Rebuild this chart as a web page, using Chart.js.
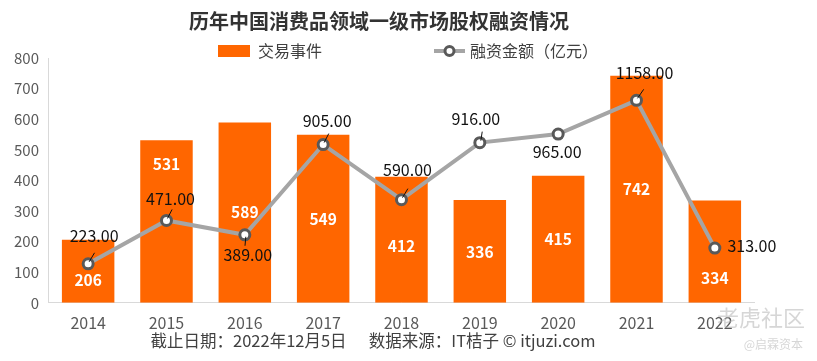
<!DOCTYPE html>
<html>
<head>
<meta charset="utf-8">
<script src="https://cdn.jsdelivr.net/npm/chart.js@4.4.0/dist/chart.umd.min.js"></script>
<style>
  html, body { margin: 0; padding: 0; background: #fff; }
  #wrap { width: 817px; height: 361px; position: relative; }
</style>
</head>
<body>
<div id="wrap"><canvas id="chart"></canvas></div>
<script>
// data
const years = ['2014', '2015', '2016', '2017', '2018', '2019', '2020', '2021', '2022'];
const deals = [206, 531, 589, 549, 412, 336, 415, 742, 334];
const amounts = [223, 471, 389, 905, 590, 916, 965, 1158, 313];
const yTicks = [0, 100, 200, 300, 400, 500, 600, 700, 800];
// where the deal counts sit inside the bars (in axis units)
const dealLabelAt = [75, 452, 295, 275, 184, 167, 207, 370, 82];

const FONT = '"Noto Sans CJK SC", "Noto Sans", sans-serif';
const ORANGE = '#ff6600';
const FOOTER = '截止日期：2022年12月5日      数据来源：IT桔子 © itjuzi.com';

// label offsets for the amount labels [dx, dy, leader]
const amtOffsets = [
  [6, -28, true], [4, -22, true], [3, 20, true], [4, -24, true], [6, -30, true],
  [-4, -24, true], [-1, 18, false], [8, -27, true], [37, -2, false]
];

const labelsPlugin = {
  id: 'labels',
  afterDatasetsDraw(chart) {
    const ctx = chart.ctx;
    const x = chart.scales.x, y = chart.scales.y;
    const lineMeta = chart.getDatasetMeta(1);
    ctx.save();
    ctx.textAlign = 'center';
    ctx.textBaseline = 'middle';
    // deal counts, white bold
    ctx.fillStyle = '#ffffff';
    ctx.font = 'bold 15.5px ' + FONT;
    deals.forEach((v, i) => {
      ctx.fillText(String(v), x.getPixelForValue(i), y.getPixelForValue(dealLabelAt[i]));
    });
    // amounts, black
    ctx.font = '16px ' + FONT;
    ctx.fillStyle = '#111';
    ctx.strokeStyle = '#111';
    ctx.lineWidth = 1;
    amounts.forEach((v, i) => {
      const p = lineMeta.data[i];
      const o = amtOffsets[i];
      if (o[2]) {
        const sgn = o[1] < 0 ? -1 : 1;
        ctx.beginPath();
        ctx.moveTo(p.x + 1, p.y + sgn * 2);
        ctx.lineTo(p.x + 1 + o[0] * 0.4 + (sgn < 0 ? 3 : -2), p.y + sgn * 11);
        ctx.stroke();
      }
      ctx.fillText(v.toFixed(2), p.x + o[0], p.y + o[1]);
    });
    ctx.restore();
  },
  afterDraw(chart) {
    const ctx = chart.ctx;
    const ds = chart.data.datasets;
    ctx.save();
    ctx.textBaseline = 'middle';

    // legend row
    const ly = 51;
    ctx.fillStyle = ds[0].backgroundColor;
    ctx.fillRect(218, ly - 6, 32, 12);
    ctx.strokeStyle = ds[1].borderColor;
    ctx.lineWidth = 4;
    ctx.beginPath(); ctx.moveTo(434, ly); ctx.lineTo(465, ly); ctx.stroke();
    ctx.beginPath(); ctx.arc(449.5, ly, 4.5, 0, Math.PI * 2);
    ctx.fillStyle = '#fff'; ctx.fill();
    ctx.lineWidth = 3; ctx.strokeStyle = ds[1].pointBorderColor; ctx.stroke();
    ctx.fillStyle = '#404040';
    ctx.font = '16px ' + FONT;
    ctx.textAlign = 'left';
    ctx.fillText(ds[0].label, 258, ly);
    ctx.fillText(ds[1].label, 470, ly);

    // footer
    ctx.fillStyle = '#404040';
    ctx.font = '16.5px ' + FONT;
    ctx.textAlign = 'center';
    ctx.fillText(FOOTER, 373, 341);

    // watermarks
    ctx.fillStyle = 'rgba(180,180,180,0.55)';
    ctx.textAlign = 'right';
    ctx.font = '22px ' + FONT;
    ctx.fillText('老虎社区', 805, 318);
    ctx.font = '12px ' + FONT;
    ctx.fillText('@启霖资本', 803, 344);
    ctx.restore();
  }
};

new Chart(document.getElementById('chart'), {
  data: {
    labels: years,
    datasets: [
      {
        type: 'bar',
        label: '交易事件',
        data: deals,
        backgroundColor: ORANGE,
        categoryPercentage: 1,
        barPercentage: 0.67,
        yAxisID: 'y',
        order: 2
      },
      {
        type: 'line',
        label: '融资金额（亿元）',
        data: amounts,
        borderColor: '#a5a5a5',
        borderWidth: 4,
        pointRadius: 5,
        pointBorderWidth: 3,
        pointBackgroundColor: '#ffffff',
        pointBorderColor: '#595959',
        tension: 0,
        yAxisID: 'y1',
        order: 1
      }
    ]
  },
  options: {
    responsive: true,
    maintainAspectRatio: false,
    animation: false,
    layout: { padding: { left: 4, right: 63, top: 3, bottom: 17 } },
    plugins: {
      title: {
        display: true,
        text: '历年中国消费品领域一级市场股权融资情况',
        color: '#333',
        font: { family: FONT, size: 20, weight: 'bold' },
        padding: { top: 6, bottom: 25 }
      },
      legend: { display: false },
      tooltip: { enabled: false }
    },
    scales: {
      x: {
        offset: true,
        grid: { display: false, drawTicks: false },
        border: { color: '#d9d9d9' },
        ticks: { color: '#595959', font: { family: FONT, size: 16 }, padding: 11 }
      },
      y: {
        min: 0,
        max: 800,
        afterBuildTicks(axis) { axis.ticks = yTicks.map(v => ({ value: v })); },
        grid: { display: false, drawTicks: false },
        border: { color: '#d9d9d9' },
        ticks: { color: '#595959', font: { family: FONT, size: 15 }, padding: 10 }
      },
      y1: {
        display: false,
        min: 0,
        max: 1400
      }
    }
  },
  plugins: [labelsPlugin]
});
</script>
</body>
</html>
